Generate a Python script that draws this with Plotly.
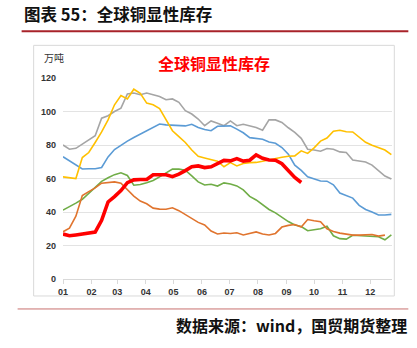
import plotly.graph_objects as go

# ---------------- data (weekly, day-of-year) ----------------
days = [7 * i for i in range(52)]

gray = [80, 77.5, 78, 80.5, 82.5, 85.5, 96, 97.5, 100, 102, 110.5, 111, 110, 111, 110, 109, 107, 107.5,
        105.5, 100.5, 98.5, 95.5, 91.5, 94.4, 93, 91.5, 94.4, 91.5, 92.4, 91.5, 90.5, 88.8, 95, 95, 93.5,
        90.3, 87.5, 84, 77.5, 77, 76.3, 77.9, 77.5, 75.9, 75.5, 71, 70.3, 69.9, 68, 65, 61.5, 59.7]

blue = [73, 70.7, 68, 65.7, 65.8, 65.8, 66.6, 72.9, 77.3, 80, 82.3, 84.5, 86.5, 88.8, 90.5, 92.5, 92,
        91.8, 91.5, 91.4, 92.4, 90.4, 89.3, 88.5, 91.2, 91.4, 91.4, 89.5, 87.3, 84.4, 83.8, 83.4, 81.8,
        81, 78.5, 74.5, 68, 64.8, 61, 59.8, 58.5, 58.4, 56.2, 51.3, 49.9, 48.3, 44, 41.5, 40, 38.2, 38.2, 38.6]

yellow = [61, 60.4, 60, 72.5, 75.5, 81.5, 87.8, 95, 104, 109.5, 107.5, 113.3, 110.8, 105, 104, 101.8,
          95.5, 88.5, 85, 81.5, 77, 73.3, 72.3, 71.5, 70.3, 67, 69.5, 67.5, 69, 69.5, 69.6, 70.3, 71.2,
          71.9, 72.7, 73.3, 73.5, 76.5, 75, 78.3, 82.3, 84.2, 88.2, 88.8, 87.9, 87.8, 84.5, 81.6, 79.8,
          78.5, 77, 74.2]

green = [41.1, 43, 45.3, 47.6, 51.3, 54.8, 58.3, 60.4, 62.3, 63.4, 61.8, 56, 56.4, 57.4, 58.8, 61,
         63.2, 65.6, 65.6, 65, 61.6, 58, 56.1, 56.6, 55.5, 57.4, 56.7, 55.6, 53.2, 49.3, 47.2, 44.5, 41.5,
         39.5, 36.8, 34.3, 32.2, 31.3, 28.8, 29.2, 30, 31.5, 25.8, 24.1, 23.8, 26.1, 25.8, 25.5, 25.2,
         25.2, 23.4, 26.4]

orange = [28.2, 30.4, 37.5, 49.8, 52.2, 54.4, 57.2, 57.8, 58, 57.2, 53.5, 49.5, 46.5, 44.9, 42.3, 41.7,
          41.6, 42.5, 40.8, 38.5, 36.2, 33.8, 32.3, 28.6, 26.9, 27.5, 27.2, 27.6, 26.3, 27.1, 28.1, 26.9,
          26.3, 27.2, 31, 32, 32.5, 31, 35.5, 34.8, 34.2, 30, 28.3, 27.4, 26.6, 26.2, 26.2, 26.3, 26.6,
          25.6, 26.2]

red = [26.8, 25.8, 26.3, 26.9, 27.4, 28, 35, 46, 49.2, 52.8, 57.5, 59.2, 59.4, 59.4, 62.2, 62.4, 62.2,
       61.1, 62.6, 64.7, 67, 67.5, 66.5, 67, 68.8, 70.8, 70.5, 71.9, 70.4, 70.9, 74.1, 72.1, 71, 70.9,
       68.8, 64.5, 60.6, 57.6]

month_start_days = [0, 31, 59, 90, 120, 151, 181, 212, 243, 273, 304, 334]
month_labels = ["01", "02", "03", "04", "05", "06", "07", "08", "09", "10", "11", "12"]
y_ticks = [0, 20, 40, 60, 80, 100, 120]

series = [
    ("2008", gray, "#A5A5A5", 1.6),
    ("2009", blue, "#5B9BD5", 1.6),
    ("2010", yellow, "#FFC000", 1.6),
    ("2011", green, "#70AD47", 1.6),
    ("2012", orange, "#E0742E", 1.6),
    ("2013", red, "#FF0000", 3.6),
]

# ---------------- layout geometry ----------------
W, H = 417, 348
L, R, T, B = 63.3, 25.3, 77.7, 69
PW, PH = W - L - R, H - T - B

def px(x):
    return (x - L) / PW

def py(y):
    return (H - B - y) / PH

fig = go.Figure()
for name, vals, col, lw in series:
    fig.add_trace(go.Scatter(x=days[:len(vals)], y=vals, name=name, mode="lines",
                             line=dict(color=col, width=lw), showlegend=False))

cjk = "Noto Sans CJK SC"
fig.update_layout(
    width=W, height=H,
    margin=dict(l=L, r=R, t=T, b=B),
    paper_bgcolor="white", plot_bgcolor="white",
    xaxis=dict(range=[0, 357.7], tickvals=month_start_days, ticktext=month_labels,
               showgrid=False, zeroline=False, showline=True, linecolor="#D9D9D9", linewidth=1,
               ticks="outside", ticklen=4, tickcolor="#D9D9D9",
               tickfont=dict(family="Liberation Sans", size=9, color="#333333", weight="bold")),
    yaxis=dict(range=[0, 120], tickvals=y_ticks, showgrid=True, gridcolor="#E3E3E3", gridwidth=1,
               zeroline=False, showline=False, ticks="", ticklabelstandoff=6,
               tickfont=dict(family="Liberation Sans", size=9, color="#333333", weight="bold")),
)

shapes = [
    # chart frame
    dict(type="rect", xref="paper", yref="paper", x0=px(34), x1=px(394), y0=py(296), y1=py(45),
         line=dict(color="#D9D9D9", width=1), fillcolor="rgba(0,0,0,0)", layer="below"),
    # header rule
    dict(type="line", xref="paper", yref="paper", x0=px(22), x1=px(408), y0=py(31), y1=py(31),
         line=dict(color="#A8232A", width=2)),
    # footer rule
    dict(type="line", xref="paper", yref="paper", x0=px(18), x1=px(408), y0=py(309), y1=py(309),
         line=dict(color="#C8706F", width=1)),
]
fig.update_layout(shapes=shapes)

annotations = [
    dict(text="图表 55：全球铜显性库存", x=px(22), y=py(14), xanchor="left", yanchor="middle",
         font=dict(family=cjk, size=16.5, color="#111111", weight="bold")),
    dict(text="全球铜显性库存", x=px(214.5), y=py(62.5), xanchor="center", yanchor="middle",
         font=dict(family=cjk, size=16, color="#FF0000", weight="bold")),
    dict(text="万吨", x=px(42), y=py(57), xanchor="left", yanchor="middle",
         font=dict(family=cjk, size=10, color="#333333")),
    dict(text="数据来源：wind，国贸期货整理", x=px(409), y=py(325), xanchor="right", yanchor="middle",
         font=dict(family=cjk, size=16, color="#111111", weight="bold")),
]
for a in annotations:
    a.update(xref="paper", yref="paper", showarrow=False)
fig.update_layout(annotations=annotations)

fig.write_html("out.html")
